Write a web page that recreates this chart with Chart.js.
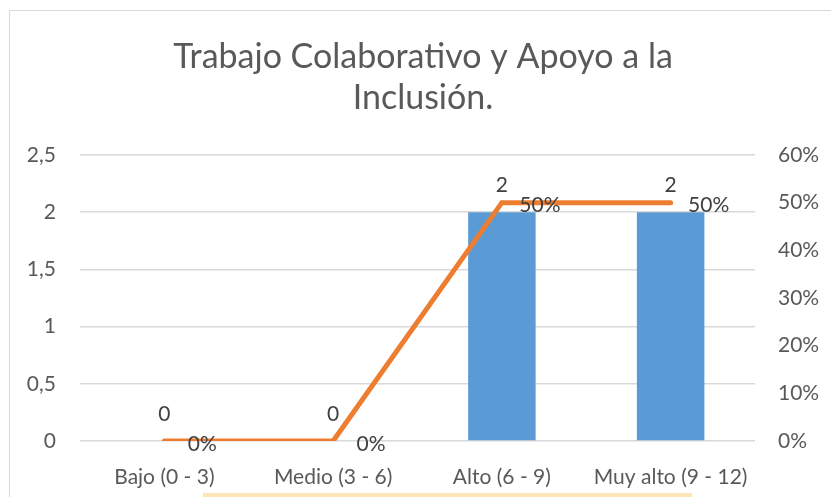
<!DOCTYPE html>
<html>
<head>
<meta charset="utf-8">
<script src="https://cdn.jsdelivr.net/npm/chart.js@4"></script>
<style>
  html, body { margin: 0; padding: 0; background: #fff; }
  #wrap { width: 831px; height: 497px; }
</style>
</head>
<body>
<div id="wrap"><canvas id="combochart"></canvas></div>
<script>
const categories = ['Bajo (0 - 3)', 'Medio (3 - 6)', 'Alto (6 - 9)', 'Muy alto (9 - 12)'];
const counts = [0, 0, 2, 2];          // bars, left axis
const percents = [0, 0, 0.5, 0.5];    // line, right axis
const titleLines = ['Trabajo Colaborativo y Apoyo a la', 'Inclusión.'];

const FONT = 'Lato, "Open Sans", sans-serif';
const GREY = '#595959';

// frame, title, the strip at the bottom and the value labels
const decor = {
    id: 'decor',
    beforeDraw(chart) {
        const c = chart.ctx;
        c.save();
        c.fillStyle = '#fff';
        c.fillRect(0, 0, chart.width, chart.height);
        c.strokeStyle = '#D9D9D9';
        c.lineWidth = 1;
        c.strokeRect(9.5, 10.5, 900, 600);
        c.restore();
    },
    afterDraw(chart) {
        const c = chart.ctx;
        c.save();
        c.fillStyle = GREY;
        c.font = '34px ' + FONT;
        c.textAlign = 'center';
        c.textBaseline = 'middle';
        c.fillText(titleLines[0], 423, 57);
        c.fillText(titleLines[1], 423, 98);

        c.fillStyle = '#FFE5B8';
        c.fillRect(203, 493, 489, 4);

        c.font = '21px ' + FONT;
        c.fillStyle = '#404040';
        chart.getDatasetMeta(1).data.forEach((el, i) => {
            c.fillText(String(counts[i]), el.x, el.y - 27);
        });
        chart.getDatasetMeta(0).data.forEach((el, i) => {
            c.fillText(Math.round(percents[i] * 100) + '%', el.x + 38, el.y + 3);
        });
        c.restore();
    }
};

const ctx = document.getElementById('combochart').getContext('2d');
const combochart = new Chart(ctx, {
    type: 'bar',
    data: {
        labels: categories,
        datasets: [{
            type: 'line',
            label: 'Porcentaje',
            data: percents,
            yAxisID: 'y1',
            borderColor: '#ED7D31',
            backgroundColor: '#ED7D31',
            borderWidth: 5,
            borderCapStyle: 'round',
            pointRadius: 0,
            tension: 0,
            order: 0
        }, {
            label: 'Frecuencia',
            data: counts,
            yAxisID: 'y',
            backgroundColor: '#5B9BD5',
            barPercentage: 0.4,
            categoryPercentage: 1,
            order: 1
        }]
    },
    options: {
        responsive: true,
        maintainAspectRatio: false,
        animation: false,
        layout: { padding: { top: 155, left: 0, right: 0, bottom: 0 } },
        plugins: {
            legend: { display: false },
            title: { display: false },
            tooltip: { enabled: false }
        },
        scales: {
            x: {
                grid: { display: false },
                border: { display: false },
                ticks: { color: GREY, font: { family: FONT, size: 21 }, padding: 16, maxRotation: 0 },
                afterFit(s) { s.height = 56; }
            },
            y: {
                position: 'left',
                min: 0,
                max: 2.5,
                ticks: {
                    stepSize: 0.5,
                    color: GREY,
                    font: { family: FONT, size: 21 },
                    padding: 24,
                    callback: v => String(v).replace('.', ',')
                },
                grid: { color: '#D9D9D9', lineWidth: 1.5, drawTicks: false },
                border: { display: false },
                afterFit(s) { s.width = 80; }
            },
            y1: {
                position: 'right',
                min: 0,
                max: 0.6,
                ticks: {
                    stepSize: 0.1,
                    color: GREY,
                    font: { family: FONT, size: 21 },
                    padding: 23,
                    callback: v => Math.round(v * 100) + '%'
                },
                grid: { display: false, drawTicks: false },
                border: { display: false },
                afterFit(s) { s.width = 76; }
            }
        }
    },
    plugins: [decor]
});
</script>
</body>
</html>
